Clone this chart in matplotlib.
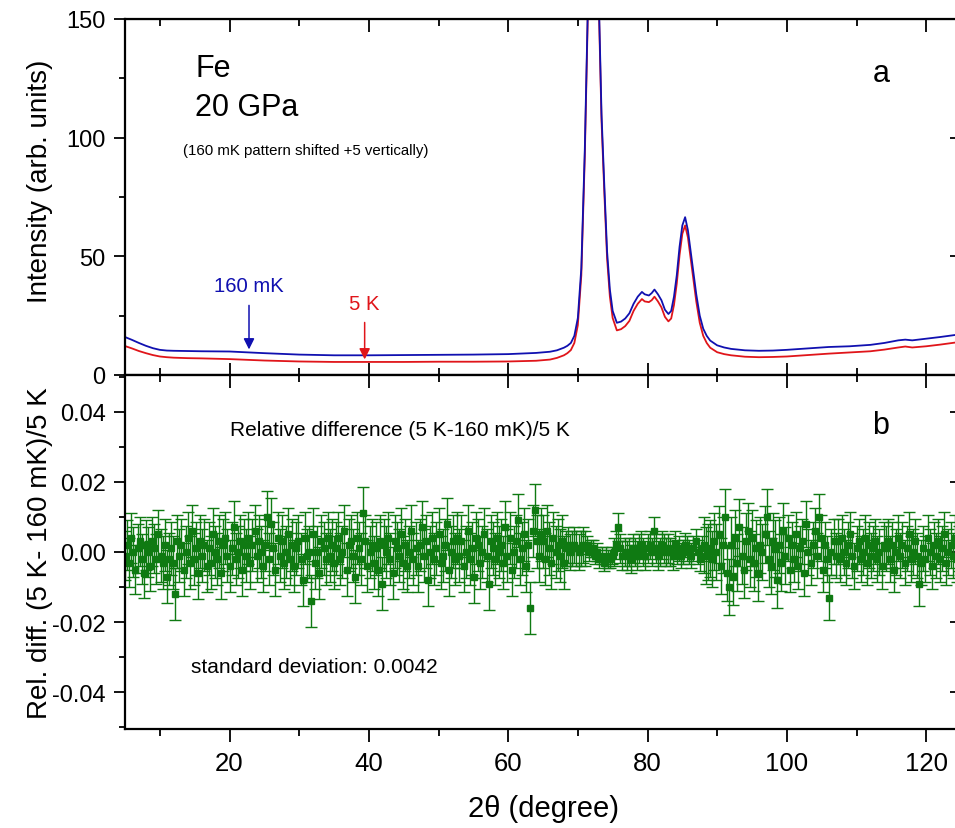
import numpy as np
import matplotlib
matplotlib.use("Agg")
import matplotlib.pyplot as plt
from matplotlib.ticker import MultipleLocator

plt.rcParams["font.family"] = ["Liberation Sans", "DejaVu Sans"]

C_BLUE = "#1010b0"; C_RED = "#e0151a"; C_GREEN = "#0f7a12"

# (a) diffraction patterns
TWO_THETA = [5, 6, 7, 8, 9, 10, 11, 12, 14, 16, 20, 25, 30, 35, 40, 45, 50, 55, 60, 64,
             66, 67, 68, 68.5, 69, 69.5, 70, 70.5, 71, 71.4, 71.8, 72.2, 72.6, 73.0, 73.4,
             73.8, 74.2, 74.6, 75.0, 75.6, 76.2, 76.8, 77.4, 78.0, 78.6, 79.2, 79.6, 80.2,
             80.6, 81.0, 81.5, 82.0, 82.5, 83.0, 83.4, 83.8, 84.2, 84.6, 85.0, 85.4, 85.8,
             86.2, 86.6, 87.0, 87.5, 88.0, 88.5, 89.0, 90, 91, 92, 94, 96, 98, 100, 103,
             106, 109, 112, 114, 116, 117, 118, 120, 122, 124, 125]
I_160MK = [16.0, 14.8, 13.5, 12.3, 11.3, 10.6, 10.3, 10.2, 10.1, 10.0, 9.9, 9.2, 8.6, 8.3,
           8.3, 8.4, 8.5, 8.6, 8.8, 9.3, 9.8, 10.4, 11.5, 12.3, 13.5, 16.5, 24, 45, 95, 150,
           230, 280, 250, 160, 110, 80, 52, 36, 27, 22, 22.5, 23.8, 26, 30, 33, 35, 34, 33.5,
           34.5, 36, 34, 31.5, 27.5, 25.7, 27, 33, 42, 54, 63, 66.5, 61, 52, 43, 34, 25,
           19.5, 16.5, 14.5, 12.5, 11.6, 11.0, 10.4, 10.2, 10.3, 10.6, 11.2, 11.8, 12.1,
           12.7, 13.5, 14.6, 14.9, 14.6, 15.3, 16.0, 16.8, 17.2]
I_5K = [12.2, 11.2, 10.1, 9.2, 8.4, 7.8, 7.5, 7.3, 7.1, 7.0, 6.7, 6.1, 5.7, 5.5, 5.5, 5.5,
        5.6, 5.6, 5.7, 6.0, 6.5, 7.2, 8.3, 9.2, 10.5, 13.5, 21, 42, 92, 147, 227, 277, 247,
        157, 107, 77, 49, 33, 24, 18.8, 19.3, 20.6, 22.8, 27, 30, 32, 31, 30.7, 31.5, 33,
        31, 28.5, 24.5, 22.6, 23.8, 29.5, 38.5, 50.5, 59.5, 63, 58, 49, 40, 31, 22, 16.5,
        13.5, 11.5, 9.6, 8.8, 8.3, 7.7, 7.5, 7.6, 7.8, 8.4, 9.0, 9.5, 10.0, 10.7, 11.6,
        12.0, 11.6, 12.1, 12.8, 13.6, 14.0]

# (b) relative difference, in units of 1e-3, one point every 0.3 deg from 5.0
REL_X0, REL_STEP = 5.0, 0.3
REL_DIFF_E3 = [
    -1, 2, -3, 4, 0, -5, 1, 3, -2, -6, 2, 0, -4, 3, 1, -2, 5, -1, -3, 2,
    -7, -2, 1, -3, -12, 3, -1, 2, -5, 0, 4, -3, 6, -2, 1, -6, 3, -1, 2, -4,
    1, -3, 5, 0, -2, 3, -6, 2, 4, -1, -4, 1, 7, -2, 0, 3, -5, 2, -1, 4,
    -3, 2, 6, -1, 3, 0, -4, 2, 10, -2, 8, 1, -5, 4, -1, 3, -3, 0, 5, -2,
    2, -4, 1, 3, -2, -8, 4, -1, 0, -14, 5, -3, 0, -6, 3, 1, -2, 4, -1, 2,
    -3, 1, 4, -2, 0, 6, -5, 2, 3, -1, -7, 4, 1, -2, 11, 3, -4, 0, 2, -3,
    1, -5, 3, -9, 2, 0, 4, -2, -6, 3, 1, -1, 5, -3, 2, -4, 0, 6, -2, 1,
    -4, 2, 7, -1, 3, -8, 0, 4, -2, 1, 5, -3, -1, 2, 8, -5, 0, 3, -2, 4,
    -1, 3, -4, 0, 6, -2, 1, -7, 4, 2, -3, 0, 5, -1, -9, 3, 1, -2, 4, 0,
    2, -3, 7, -1, 4, -5, 0, 3, 9, -2, 1, 5, -4, 2, -16, 6, 12, 3, -1, 5,
    3, -2, 6, 1, -3, 4, 0, 2, -1, 3, -3, 1, 2, 0, 1, 2, 1, 0, 1, 2,
    1, 2, 0, 1, 1, -1, 0, -2, -1, -3, -1, -2, -2, -1, 0, 2, 7, 1, -1, 0,
    -1, 0, -2, 1, 0, -1, 1, 2, 0, -1, 1, 2, 0, 6, 1, -1, 0, 2, 1, 0,
    1, 0, -1, 2, 0, 1, -1, 0, 2, 1, 0, -1, 1, 3, 0, -2, 1, 2, -1, 0,
    1, -2, 3, 0, 5, -4, 2, 10, -6, -10, 2, -7, 4, -3, 7, -1, -5, 3, 6, -2,
    4, -3, 1, -6, 2, 0, 5, 10, -2, -4, 3, 1, -8, 2, -3, 6, -1, 4, -5, 2,
    -2, 5, -4, 1, 3, -6, 8, 0, -3, 2, 6, -1, 10, 4, -5, 2, -2, -13, 0, 3,
    -1, 3, -2, 4, 0, -3, 2, 5, -1, -4, 1, 3, -2, 0, 4, -3, 2, -1, 1, 3,
    -2, 0, -4, 2, 1, 3, -2, 2, -5, 0, 4, -1, 2, -3, 1, 5, -2, 0, 3, -1,
    -9, -3, 1, -2, 4, 0, -4, 2, -1, 3, -2, 1, 5, -3, 0, 2, -1, 4, -2, 1,
]
# error bar half-width per 2theta range
ERR_EDGES = [10, 68, 71, 75, 84, 88, 100]
ERR_E3 = [7.0, 7.5, 5.0, 2.5, 4.0, 3.5, 8.0, 6.5]

rel_x = REL_X0 + REL_STEP * np.arange(len(REL_DIFF_E3))
rel_y = np.array(REL_DIFF_E3) * 1e-3
rel_err = np.array(ERR_E3)[np.searchsorted(ERR_EDGES, rel_x)] * 1e-3

W, H = 955, 829
fig = plt.figure(figsize=(W / 100, H / 100), dpi=100)
L, R = 125, 961
ax1 = fig.add_axes([L / W, (H - 376) / H, (R - L) / W, 356 / H])
ax2 = fig.add_axes([L / W, (H - 730) / H, (R - L) / W, 354 / H])

for ax in (ax1, ax2):
    for s in ax.spines.values():
        s.set_linewidth(1.6)
    ax.set_xlim(5, 125)
    ax.xaxis.set_major_locator(MultipleLocator(20))
    ax.xaxis.set_minor_locator(MultipleLocator(10))
    ax.tick_params(axis="y", which="major", direction="out", length=8, width=1.3,
                   labelsize=17, pad=6)
    ax.tick_params(axis="y", which="minor", direction="out", length=4, width=1.3)
    sy = ax.secondary_yaxis("right")
    sy.tick_params(which="major", direction="in", length=8, width=1.3, labelright=False)
    sy.tick_params(which="minor", direction="in", length=4, width=1.3)
    sx = ax.secondary_xaxis("top")
    sx.xaxis.set_major_locator(MultipleLocator(20))
    sx.xaxis.set_minor_locator(MultipleLocator(10))
    sx.tick_params(which="major", direction="in", length=9, width=1.3, labeltop=False)
    sx.tick_params(which="minor", direction="in", length=5, width=1.3)
    ax._sy = sy

# (a)
ax1.plot(TWO_THETA, I_5K, color=C_RED, lw=1.3)
ax1.plot(TWO_THETA, I_160MK, color=C_BLUE, lw=1.3)
ax1.set_ylim(0, 150)
ax1.yaxis.set_major_locator(MultipleLocator(50))
ax1.yaxis.set_minor_locator(MultipleLocator(25))
ax1._sy.yaxis.set_major_locator(MultipleLocator(50))
ax1._sy.yaxis.set_minor_locator(MultipleLocator(25))
ax1.tick_params(axis="x", which="major", direction="in", length=9, width=1.3, labelbottom=False)
ax1.tick_params(axis="x", which="minor", direction="in", length=5, width=1.3)

ax1.text(15.1, 126, "Fe", fontsize=22, va="baseline")
ax1.text(15.1, 109.6, "20 GPa", fontsize=22, va="baseline")
ax1.text(13.3, 93, "(160 mK pattern shifted +5 vertically)", fontsize=10.8, va="baseline")
ax1.text(112.3, 124, "a", fontsize=22, va="baseline")
ax1.text(17.8, 35.4, "160 mK", fontsize=14.6, color=C_BLUE, va="baseline")
ax1.text(37.1, 27.8, "5 K", fontsize=14.6, color=C_RED, va="baseline")
ax1.annotate("", xy=(22.8, 9.6), xytext=(22.8, 30.5),
             arrowprops=dict(arrowstyle="-|>", color=C_BLUE, lw=1.1, mutation_scale=16))
ax1.annotate("", xy=(39.4, 5.4), xytext=(39.4, 23.3),
             arrowprops=dict(arrowstyle="-|>", color=C_RED, lw=1.1, mutation_scale=16))

# (b)
ax2.errorbar(rel_x, rel_y, yerr=rel_err, fmt="s", ms=3.8, color=C_GREEN, ecolor=C_GREEN,
             elinewidth=1.0, capsize=4.5, capthick=1.0)
ax2.set_ylim(-0.0505, 0.0505)
ax2.yaxis.set_major_locator(MultipleLocator(0.02))
ax2.yaxis.set_minor_locator(MultipleLocator(0.01))
ax2._sy.yaxis.set_major_locator(MultipleLocator(0.02))
ax2._sy.yaxis.set_minor_locator(MultipleLocator(0.01))
ax2.yaxis.set_major_formatter(matplotlib.ticker.FormatStrFormatter("%.2f"))
ax2.tick_params(axis="x", which="major", direction="out", length=9, width=1.3,
                labelsize=18.5, pad=7)
ax2.tick_params(axis="x", which="minor", direction="out", length=5, width=1.3)

ax2.text(20.1, 0.0334, "Relative difference (5 K-160 mK)/5 K", fontsize=15, va="baseline")
ax2.text(112.2, 0.034, "b", fontsize=22, va="baseline")
ax2.text(14.5, -0.0343, "standard deviation: 0.0042", fontsize=15, va="baseline")

fig.text(543 / W, 1 - 809 / H, "2\u03b8 (degree)", fontsize=21, ha="center", va="center")
fig.text(40 / W, 1 - 181 / H, "Intensity (arb. units)", fontsize=20, rotation=90,
         ha="center", va="center")
fig.text(40 / W, 1 - 553 / H, "Rel. diff. (5 K- 160 mK)/5 K", fontsize=20, rotation=90,
         ha="center", va="center")

fig.savefig("out.png", dpi=100)
